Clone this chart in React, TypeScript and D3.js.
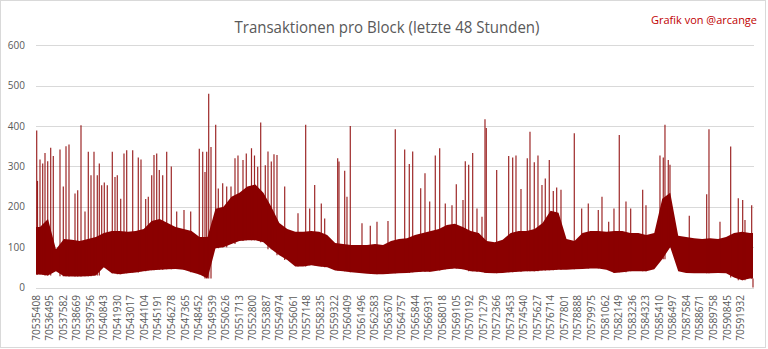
import React from "react";
import * as d3 from "d3";

const startBlock = 70535408;
const endBlock = 70593008;
const binSize = 640;
const tickStep = 1087;
const tickCount = 53;
const yTicks = [0, 100, 200, 300, 400, 500, 600];

const bandHigh = [
  150, 170, 95, 120, 118, 115, 120, 125, 135, 140,
  140, 138, 140, 145, 165, 170, 160, 150, 145, 140,
  125, 125, 195, 200, 225, 235, 250, 255, 235, 200,
  160, 145, 138, 138, 140, 138, 130, 110, 108, 105,
  105, 105, 108, 105, 115, 120, 122, 130, 135, 140,
  145, 155, 158, 150, 140, 135, 115, 112, 118, 135,
  140, 140, 145, 160, 190, 185, 120, 115, 135, 140,
  140, 138, 140, 140, 135, 135, 130, 135, 220, 235,
  128, 125, 122, 120, 122, 120, 125, 135, 138, 135,
];
const bandLow = [
  32, 30, 40, 28, 27, 27, 28, 30, 50, 35,
  33, 35, 37, 40, 43, 44, 45, 46, 44, 38,
  32, 22, 97, 100, 108, 115, 117, 117, 112, 95,
  80, 68, 52, 52, 55, 52, 50, 42, 40, 38,
  36, 34, 33, 33, 34, 35, 36, 38, 39, 39,
  42, 45, 47, 45, 40, 39, 36, 35, 36, 38,
  39, 40, 40, 42, 43, 44, 44, 45, 46, 47,
  47, 44, 36, 38, 40, 40, 40, 45, 70, 100,
  40, 36, 35, 35, 35, 36, 35, 25, 18, 22,
];

const spikeBlocks = [
  70535464, 70535528, 70535729, 70535945, 70536130, 70536347, 70536587, 70536796, 70537333, 70537598,
  70537815, 70538055, 70538537, 70538753, 70539018, 70539339, 70539604, 70539820, 70540061, 70540325,
  70540486, 70540678, 70540887, 70541128, 70541529, 70541745, 70541930, 70542203, 70542467, 70542684,
  70543165, 70543614, 70543831, 70544208, 70544417, 70544690, 70544874, 70545091, 70545299, 70545572,
  70545893, 70546262, 70546695, 70547281, 70547818, 70548508, 70548781, 70548965, 70549102, 70549262,
  70549447, 70549824, 70550032, 70550385, 70550706, 70551051, 70551372, 70551612, 70552014, 70552278,
  70552695, 70552936, 70553193, 70553434, 70553803, 70554019, 70554284, 70554500, 70554741, 70555359,
  70556426, 70557043, 70557364, 70557765, 70558295, 70558567, 70559610, 70559715, 70560172, 70560356,
  70560621, 70561560, 70562226, 70562763, 70563645, 70564231, 70564985, 70565354, 70565627, 70566269,
  70566614, 70566991, 70567440, 70567793, 70568242, 70568780, 70569125, 70569662, 70569847, 70570119,
  70570440, 70570785, 70571186, 70571427, 70571531, 70572365, 70573328, 70573649, 70573914, 70574315,
  70574820, 70575037, 70575382, 70575678, 70575999, 70576264, 70576585, 70576906, 70577178, 70577524,
  70578591, 70579184, 70579714, 70580516, 70580813, 70581350, 70581775, 70582200, 70582738, 70583115,
  70584078, 70584342, 70585465, 70585730, 70585866, 70586131, 70586268, 70587816, 70589212, 70589396,
  70590279, 70591137, 70591747, 70592100, 70592284, 70592822, 70592927,
];
const spikeValues = [
  389, 264, 317, 307, 333, 313, 346, 326, 342, 250,
  350, 354, 233, 241, 402, 188, 336, 278, 336, 278,
  307, 253, 260, 253, 336, 274, 278, 220, 332, 340,
  340, 322, 317, 219, 225, 278, 328, 332, 291, 278,
  336, 300, 188, 192, 188, 344, 336, 286, 336, 480,
  348, 403, 245, 258, 250, 250, 320, 327, 316, 332,
  345, 327, 299, 409, 303, 337, 312, 330, 328, 250,
  184, 403, 196, 254, 208, 171, 320, 312, 289, 225,
  400, 159, 153, 163, 165, 392, 342, 306, 337, 246,
  283, 213, 327, 345, 208, 204, 256, 217, 313, 304,
  333, 196, 175, 417, 395, 291, 326, 322, 327, 244,
  320, 386, 310, 327, 254, 270, 316, 239, 248, 242,
  382, 196, 208, 192, 225, 163, 196, 378, 213, 196,
  242, 204, 327, 322, 403, 316, 304, 178, 231, 392,
  163, 349, 221, 217, 167, 204, 0,
];

const W = 768;
const H = 349;
const red = "#8B0000";
const grid = "#d9d9d9";
const textGray = "#595959";

export default function App() {
  const x = d3.scaleLinear().domain([startBlock, endBlock]).range([36, 754]);
  const y = d3.scaleLinear().domain([0, 600]).range([287.5, 45.3]);

  const bins = bandHigh.map((h, i) => ({
    b: startBlock + binSize * (i + 0.5),
    h,
    l: bandLow[i],
  }));
  bins.unshift({ b: startBlock, h: bandHigh[0], l: bandLow[0] });
  bins.push({ b: endBlock - 80, h: bandHigh[bandHigh.length - 1], l: bandLow[bandLow.length - 1] });

  const area = d3
    .area<{ b: number; h: number; l: number }>()
    .x((d) => x(d.b))
    .y0((d) => y(d.l))
    .y1((d) => y(d.h));

  const lowAt = (b: number) => {
    const i = Math.max(0, Math.min(bandLow.length - 1, Math.floor((b - startBlock) / binSize)));
    return bandLow[i];
  };

  const ticks = d3.range(tickCount).map((k) => startBlock + k * tickStep);

  return (
    <div style={{ position: "absolute", left: 0, top: 0 }}>
      <svg width={W} height={H} style={{ display: "block" }}>
        <rect x={0} y={0} width={W} height={H} fill="#fff" />
        <rect x={0.5} y={0.5} width={765} height={347} fill="none" stroke="#d9d9d9" />
        <text
          x={387}
          y={33}
          textAnchor="middle"
          fontFamily="'Open Sans', sans-serif"
          fontSize={16}
          fill={textGray}
          textLength={305}
          lengthAdjust="spacingAndGlyphs"
        >
          Transaktionen pro Block (letzte 48 Stunden)
        </text>
        <text
          x={651}
          y={24}
          fontFamily="'Open Sans', sans-serif"
          fontSize={11}
          fill="#C00000"
          textLength={106}
          lengthAdjust="spacingAndGlyphs"
        >
          Grafik von @arcange
        </text>
        {yTicks.map((t) => (
          <g key={t}>
            <line x1={36} x2={754} y1={Math.round(y(t)) + 0.5} y2={Math.round(y(t)) + 0.5} stroke={grid} strokeWidth={1} />
            <text
              x={25}
              y={y(t) + 3.5}
              textAnchor="end"
              fontFamily="'Open Sans', sans-serif"
              fontSize={10}
              fill={textGray}
            >
              {t}
            </text>
          </g>
        ))}
        <path d={area(bins) || ""} fill={red} />
        {spikeBlocks.map((b, i) => (
          <line
            key={i}
            x1={x(b)}
            x2={x(b)}
            y1={y(lowAt(b))}
            y2={y(spikeValues[i])}
            stroke={red}
            strokeWidth={1.2}
            strokeOpacity={0.85}
          />
        ))}
        {ticks.map((t) => (
          <text
            key={t}
            transform={`translate(${x(t) + 3.5},295) rotate(-90)`}
            textAnchor="end"
            fontFamily="'Open Sans', sans-serif"
            fontSize={10}
            fill={textGray}
          >
            {t}
          </text>
        ))}
      </svg>
    </div>
  );
}
